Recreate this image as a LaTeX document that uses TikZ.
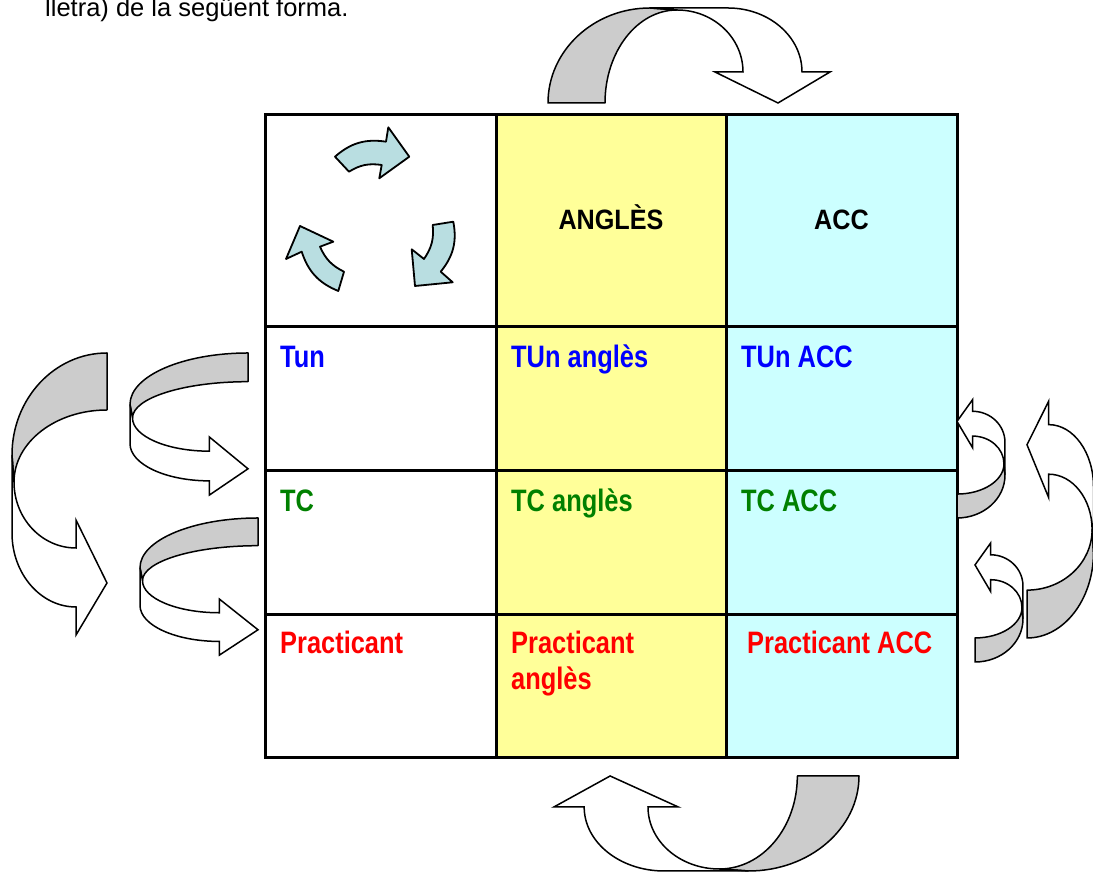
\documentclass[tikz,border=0pt]{standalone}
\usepackage{fontspec}
\setmainfont{Liberation Sans}
\newfontfamily\narrowsans{Liberation Sans}[FakeStretch=0.82]
\newfontfamily\headsans{Liberation Sans}[FakeStretch=0.9]
\usetikzlibrary{positioning}

\definecolor{tunblue}{HTML}{0000FF}
\definecolor{tcgreen}{HTML}{008000}
\definecolor{practred}{HTML}{FF0000}
\definecolor{anglesyellow}{HTML}{FFFF99}
\definecolor{accblue}{HTML}{CCFFFF}
\definecolor{ribbongray}{HTML}{CCCCCC}
\definecolor{cyclecyan}{HTML}{B9DEE1}

\tikzset{
  cell/.style={draw, line width=3pt, inner sep=0pt, outer sep=0pt, minimum width=231pt},
  headrow/.style={cell, minimum height=212pt},
  bodyrow/.style={cell, minimum height=144pt},
  heading/.style={anchor=base, inner sep=0pt, font=\headsans\bfseries\fontsize{28}{32}\selectfont},
  entry/.style={anchor=base west, inner sep=0pt, align=left,
    font=\narrowsans\bfseries\fontsize{31}{36}\selectfont},
  ribbon back/.style={draw, fill=ribbongray, line width=1.5pt, line join=round},
  ribbon front/.style={draw, fill=white, line width=1.5pt},
  cycle arrow/.style={draw, fill=cyclecyan, line width=1.8pt, line join=round},
}

% curved ribbon arrow, drawn over the top from left to right;
% #1 places it (shift or cm)
\newcommand{\ribbonarrow}[1]{%
  \begin{scope}[#1]
    \path[ribbon back] (0,0) .. controls (0,52.5) and (45.7,95) .. (102,95)
      -- (129,93) .. controls (89.2,93) and (57,51.4) .. (57,0) -- cycle;
    \path[ribbon front] (102,95) -- (180,95) .. controls (220.9,95) and (254,66.3) .. (254,31)
      -- (282,31) -- (230,0) -- (167,31) -- (195,31)
      .. controls (195,65.2) and (165.5,93) .. (129,93) -- cycle;
  \end{scope}}

\begin{document}
\begin{tikzpicture}[x=1pt, y=1pt]
  \clip (0,0) rectangle (1093,872);

  \node[anchor=base west, inner sep=0pt, font=\fontsize{25.5}{30}\selectfont] (intro)
    at (45,855) {lletra) de la següent forma.};

  % the table
  \node[headrow] (corner) at (380.5,651) {};
  \node[headrow, right=0pt of corner, minimum width=230pt, fill=anglesyellow] (angles) {};
  \node[headrow, right=0pt of angles, fill=accblue] (acc) {};

  \node[bodyrow, below=0pt of corner] (tun) {};
  \node[bodyrow, below=0pt of angles, minimum width=230pt, fill=anglesyellow] (tunangles) {};
  \node[bodyrow, below=0pt of acc, fill=accblue] (tunacc) {};

  \node[bodyrow, below=0pt of tun] (tc) {};
  \node[bodyrow, below=0pt of tunangles, minimum width=230pt, fill=anglesyellow] (tcangles) {};
  \node[bodyrow, below=0pt of tunacc, fill=accblue] (tcacc) {};

  \node[bodyrow, below=0pt of tc, minimum height=143pt] (pract) {};
  \node[bodyrow, below=0pt of tcangles, minimum width=230pt, minimum height=143pt, fill=anglesyellow] (practangles) {};
  \node[bodyrow, below=0pt of tcacc, minimum height=143pt, fill=accblue] (practacc) {};

  % headings and entries
  \node[heading] (anglestext) at ([yshift=-9pt]angles.center) {ANGLÈS};
  \node[heading] (acctext) at ([yshift=-9pt]acc.center) {ACC};

  \node[entry, text=tunblue] (tuntext) at ([shift={(15,-40.5)}]tun.north west) {Tun};
  \node[entry, text=tunblue] (tunanglestext) at ([shift={(15,-40.5)}]tunangles.north west) {TUn anglès};
  \node[entry, text=tunblue] (tunacctext) at ([shift={(15,-40.5)}]tunacc.north west) {TUn ACC};

  \node[entry, text=tcgreen] (tctext) at ([shift={(15,-40.5)}]tc.north west) {TC};
  \node[entry, text=tcgreen] (tcanglestext) at ([shift={(15,-40.5)}]tcangles.north west) {TC anglès};
  \node[entry, text=tcgreen] (tcacctext) at ([shift={(15,-40.5)}]tcacc.north west) {TC ACC};

  \node[entry, text=practred] (practtext) at ([shift={(15,-38.5)}]pract.north west) {Practicant};
  % base of a two-line node sits on its last line
  \node[entry, text=practred] (practanglestext) at ([shift={(15,-74.5)}]practangles.north west) {Practicant\\anglès};
  \node[entry, text=practred] (practacctext) at ([shift={(21,-38.5)}]practacc.north west) {Practicant ACC};

  % three turning arrows in the corner cell
  \path[cycle arrow] (335,715.3) to[bend left=25] (386,730.3) -- (388.3,744.7) -- (409.3,715.3)
    -- (379.3,693.7) -- (381.7,707) to[bend right=20] (349,700.3) -- cycle;
  \path[cycle arrow] (432.7,647) -- (453.3,650.3) to[bend left=25] (440.7,600.3) -- (452.7,589.7)
    -- (415,586) -- (411.7,622.7) -- (424,613) to[bend right=20] (432.7,647) -- cycle;
  \path[cycle arrow] (344,600.3) -- (338.3,581) to[bend left=25] (301.7,620.3) -- (286,613)
    -- (300,646) -- (333.3,630.3) -- (320,625.3) to[bend right=20] (344,600.3) -- cycle;

  % ribbon arrows round the table
  \ribbonarrow{shift={(548,769)}}
  \ribbonarrow{cm={-1.082,0,0,-1,(859,96)}}
  \ribbonarrow{cm={0,-1,-1,0,(107,519)}}
  \ribbonarrow{cm={0,-0.5035,-1.242,0,(248,519)}}
  \ribbonarrow{cm={0,-0.486,-1.242,0,(258,354)}}
  \ribbonarrow{cm={0,0.42,0.505,0,(957,354)}}
  \ribbonarrow{cm={0,0.422,0.505,0,(975,210)}}
  \ribbonarrow{cm={0,0.84,0.7,0,(1027,234)}}
\end{tikzpicture}
\end{document}
